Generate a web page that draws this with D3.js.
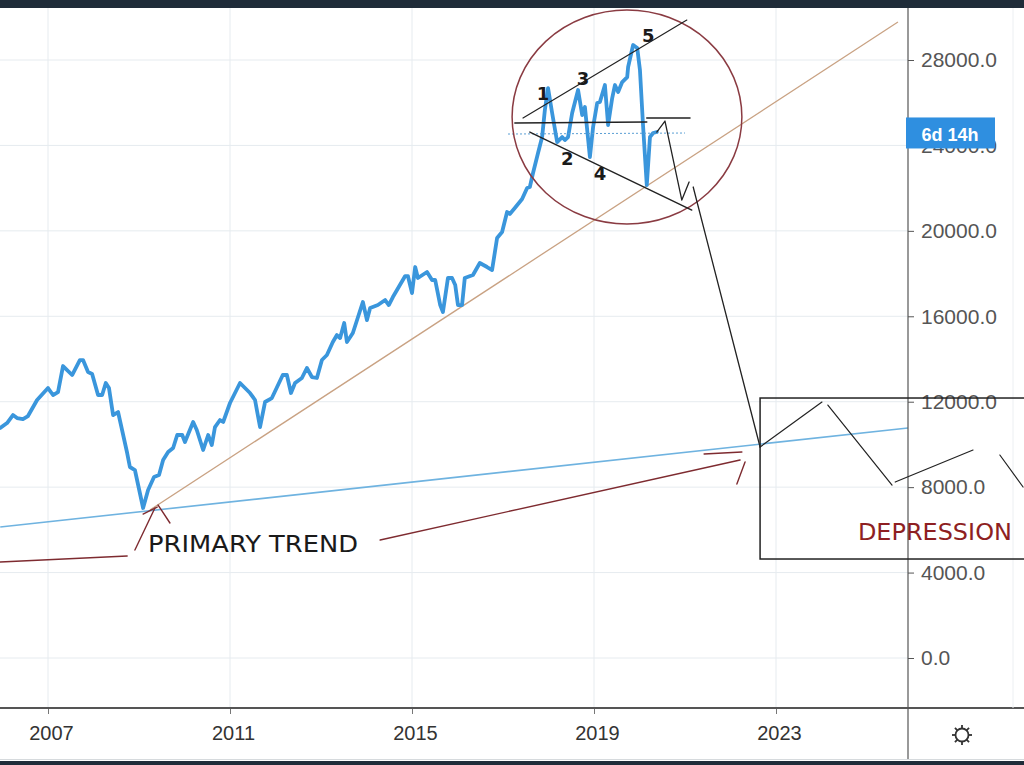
<!DOCTYPE html>
<html>
<head>
<meta charset="utf-8">
<script src="https://cdn.jsdelivr.net/npm/d3@7"></script>
<style>
  html, body { margin: 0; padding: 0; background: #ffffff; }
  svg { display: block; }
</style>
</head>
<body>
<svg id="chart" width="1024" height="765"></svg>
<script>
// ---------------- DATA ----------------
const priceYears = [2005.95,2006.10,2006.23,2006.32,2006.45,2006.56,2006.76,2007.00,2007.11,2007.22,2007.33,2007.53,2007.70,2007.77,2007.88,2007.97,2008.10,2008.19,2008.27,2008.34,2008.43,2008.54,2008.74,2008.80,2008.91,2009.09,2009.20,2009.33,2009.44,2009.53,2009.64,2009.75,2009.84,2009.95,2010.01,2010.19,2010.27,2010.41,2010.52,2010.60,2010.67,2010.78,2010.85,2011.00,2011.22,2011.44,2011.55,2011.66,2011.77,2011.92,2012.16,2012.25,2012.34,2012.43,2012.58,2012.69,2012.80,2012.91,2013.02,2013.13,2013.26,2013.35,2013.42,2013.51,2013.57,2013.70,2013.92,2014.01,2014.08,2014.25,2014.41,2014.49,2014.58,2014.67,2014.85,2014.91,2015.00,2015.07,2015.13,2015.33,2015.44,2015.51,2015.62,2015.68,2015.79,2015.88,2015.95,2016.01,2016.10,2016.16,2016.34,2016.49,2016.65,2016.76,2016.87,2016.98,2017.09,2017.15,2017.26,2017.42,2017.53,2017.59,2017.66,2017.77,2017.86,2017.92,2017.99,2018.08,2018.19,2018.30,2018.36,2018.43,2018.52,2018.65,2018.74,2018.80,2018.91,2018.98,2019.07,2019.13,2019.24,2019.31,2019.40,2019.46,2019.53,2019.62,2019.73,2019.75,2019.86,2019.95,2020.01,2020.08,2020.16,2020.23,2020.30,2020.38];
const priceValues = [10770,11003,11377,11237,11190,11330,12080,12641,12314,12454,13671,13250,13952,13952,13391,13297,12314,12314,12876,12641,11377,11518,9598,8943,8802,7023,7866,8474,8568,9270,9645,9832,10441,10441,10113,11050,10675,9739,10441,9973,10815,11143,11050,11939,12876,12407,12080,10815,11986,12173,13250,13250,12407,12876,13110,13578,13156,13110,13952,14186,14795,15123,14982,15685,14795,15217,16668,15825,16387,16527,16762,16527,16902,17230,17885,17885,17089,18307,17792,18073,17698,17698,16527,16200,17792,17792,17464,16527,16527,17792,17932,18494,18307,18166,19664,19945,20882,20788,21069,21490,22005,22052,22708,23644,24393,25657,26687,25517,24159,24393,24253,24393,25517,26594,25423,25798,23457,24861,25985,26032,26828,24955,26219,26828,26500,26968,27202,27671,28701,28560,27530,24861,22146,24393,24581,24627];

const xTickYears = [2007, 2011, 2015, 2019, 2023];
const yTickValues = [0, 4000, 8000, 12000, 16000, 20000, 24000, 28000];
const countdownLabel = "6d 14h";
const countdownLevel = 24560;

// drawn annotations, in data units [year, value]
const risingTrend = [[2009.24, 6929], [2025.68, 29778]];
const primaryTrend = [[2005.95, 6133], [2025.90, 10769]];
const upperChannel = [[2017.44, 25283], [2021.04, 29871]];
const lowerChannel = [[2017.59, 24627], [2021.15, 20975]];
const necklines = [
  [[2017.26, 25049], [2020.16, 25096]],
  [[2020.16, 25283], [2021.11, 25283]]
];
const dottedLevel = [[2017.11, 24534], [2021.00, 24581]];
const projections = [
  [[2020.38, 24627], [2020.56, 25142], [2020.93, 21444], [2021.09, 22286]],
  [[2021.18, 22052], [2022.65, 9879]]
];
const depressionPath = [
  [[2022.65, 9879], [2024.01, 11986]],
  [[2024.14, 11845], [2025.55, 8100]],
  [[2025.62, 8240], [2027.33, 9739]],
  [[2027.92, 9504], [2028.43, 8006]]
];
const depressionBox = [[2022.65, 12173], [2028.70, 4635]];
const handStrokes = [
  [[2005.95, 4495], [2008.74, 4776]],
  [[2008.91, 5057], [2009.35, 7023]],
  [[2009.09, 6742], [2009.40, 7070]],
  [[2009.42, 7163], [2009.68, 6321]],
  [[2014.30, 5525], [2022.21, 9270]],
  [[2021.42, 9551], [2022.25, 9645]],
  [[2022.32, 9177], [2022.14, 8147]]
];
const waveCircle = [[2017.20, 30340], [2022.25, 20320]];
const waveLabels = [
  {t: "1", at: [2017.88, 26126]},
  {t: "2", at: [2018.41, 23082]},
  {t: "3", at: [2018.76, 26828]},
  {t: "4", at: [2019.13, 22380]},
  {t: "5", at: [2020.19, 28841]}
];
const textNotes = [
  {t: "PRIMARY TREND", at: [2009.20, 4963], width: 210, color: "#1a1a1a"},
  {t: "DEPRESSION", at: [2024.80, 5525], width: 154, color: "#8e1f22"}
];

// ---------------- LAYOUT ----------------
const W = 1024, H = 765;
const plotRight = 908, plotTop = 8, plotBottom = 708;
const svg = d3.select("#chart");

const x = d3.scaleLinear().domain([2007, 2023]).range([48, 776]);
const y = d3.scaleLinear().domain([0, 28000]).range([658, 60]);
const px = d => x(d[0]), py = d => y(d[1]);

svg.append("rect").attr("width", W).attr("height", H).attr("fill", "#ffffff");

const defs = svg.append("defs");
defs.append("clipPath").attr("id", "plotClip")
  .append("rect").attr("x", 0).attr("y", plotTop).attr("width", plotRight).attr("height", plotBottom - plotTop);

// grid
const grid = svg.append("g").attr("clip-path", "url(#plotClip)");
grid.selectAll("line.v").data(xTickYears).join("line")
  .attr("x1", d => x(d)).attr("x2", d => x(d))
  .attr("y1", plotTop).attr("y2", plotBottom)
  .attr("stroke", "#e6ebef").attr("stroke-width", 1);
grid.selectAll("line.h").data(yTickValues).join("line")
  .attr("x1", 0).attr("x2", plotRight)
  .attr("y1", d => y(d)).attr("y2", d => y(d))
  .attr("stroke", "#e6ebef").attr("stroke-width", 1);

const line = d3.line().x(px).y(py);

// plot content
const plot = svg.append("g").attr("clip-path", "url(#plotClip)");
plot.append("path").datum(primaryTrend).attr("d", line)
  .attr("fill", "none").attr("stroke", "#6fb3e0").attr("stroke-width", 1.6);
plot.append("path").datum(risingTrend).attr("d", line)
  .attr("fill", "none").attr("stroke", "#c9a283").attr("stroke-width", 1.3);

const priceData = priceYears.map((yr, i) => [yr, priceValues[i]]);
plot.append("path").datum(priceData).attr("d", line)
  .attr("fill", "none").attr("stroke", "#3a96dc").attr("stroke-width", 3.8)
  .attr("stroke-linejoin", "round").attr("stroke-linecap", "round");

// dotted price level
plot.append("path").datum(dottedLevel).attr("d", line)
  .attr("fill", "none").attr("stroke", "#5a9fd4").attr("stroke-width", 1)
  .attr("stroke-dasharray", "2,2");

// ---------------- axes ----------------
// right price axis
const yAxisG = svg.append("g").attr("transform", `translate(${plotRight},0)`)
  .call(d3.axisRight(y).tickValues(yTickValues).tickFormat(d3.format(".1f")).tickSize(6).tickPadding(7));
yAxisG.select(".domain").remove();
yAxisG.selectAll(".tick line").attr("stroke", "#555");
yAxisG.selectAll(".tick text").attr("fill", "#555").style("font-family", "'Liberation Sans', Arial, sans-serif").style("font-size", "21px");

// bottom time axis
const xAxisG = svg.append("g").attr("transform", `translate(0,${plotBottom})`)
  .call(d3.axisBottom(x).tickValues(xTickYears).tickFormat(d3.format("d")).tickSize(6).tickPadding(12));
xAxisG.select(".domain").remove();
xAxisG.selectAll(".tick line").attr("stroke", "#777");
xAxisG.selectAll(".tick text").attr("fill", "#333").attr("dx", 3)
  .style("font-family", "'Liberation Sans', Arial, sans-serif").style("font-size", "20px");

svg.append("line").attr("x1", 0).attr("x2", W).attr("y1", plotBottom).attr("y2", plotBottom)
  .attr("stroke", "#555").attr("stroke-width", 2.2);
svg.append("line").attr("x1", plotRight).attr("x2", plotRight).attr("y1", plotTop).attr("y2", 760)
  .attr("stroke", "#555").attr("stroke-width", 1.2);
svg.append("line").attr("x1", 1013).attr("x2", 1013).attr("y1", plotTop).attr("y2", plotBottom)
  .attr("stroke", "#eceff2").attr("stroke-width", 1);

// countdown label (covers the 24000.0 tick label, as in the original)
const cy = y(countdownLevel);
svg.append("rect").attr("x", plotRight - 2).attr("y", cy - 16).attr("width", 89).attr("height", 31)
  .attr("fill", "#2f8fe0");
svg.append("text").attr("x", plotRight + 42).attr("y", cy + 1).attr("dy", "0.35em")
  .attr("text-anchor", "middle").attr("fill", "#ffffff")
  .style("font-family", "'Liberation Sans', Arial, sans-serif").style("font-size", "18px").style("font-weight", "bold")
  .text(countdownLabel);

// gear icon
const gear = svg.append("g").attr("transform", "translate(962,735)");
gear.append("circle").attr("r", 6.5).attr("fill", "none").attr("stroke", "#333").attr("stroke-width", 1.8);
gear.selectAll("line").data(d3.range(8)).join("line")
  .attr("x1", d => Math.cos(d * Math.PI / 4) * 6.5).attr("y1", d => Math.sin(d * Math.PI / 4) * 6.5)
  .attr("x2", d => Math.cos(d * Math.PI / 4) * 10).attr("y2", d => Math.sin(d * Math.PI / 4) * 10)
  .attr("stroke", "#333").attr("stroke-width", 1.8);

// top and bottom chrome
svg.append("rect").attr("x", 0).attr("y", 0).attr("width", W).attr("height", plotTop).attr("fill", "#1f2c39");
svg.append("rect").attr("x", 0).attr("y", 759).attr("width", W).attr("height", 1).attr("fill", "#d6dadd");
svg.append("rect").attr("x", 0).attr("y", 761).attr("width", W).attr("height", 4).attr("fill", "#1f2c39");

// ---------------- annotations ----------------
const ann = svg.append("g");
const drawSeg = (pts, color, w) => ann.append("path").datum(pts).attr("d", line)
  .attr("fill", "none").attr("stroke", color).attr("stroke-width", w)
  .attr("stroke-linecap", "round").attr("stroke-linejoin", "round");

// wave circle
ann.append("ellipse")
  .attr("cx", (x(waveCircle[0][0]) + x(waveCircle[1][0])) / 2)
  .attr("cy", (y(waveCircle[0][1]) + y(waveCircle[1][1])) / 2)
  .attr("rx", (x(waveCircle[1][0]) - x(waveCircle[0][0])) / 2)
  .attr("ry", (y(waveCircle[1][1]) - y(waveCircle[0][1])) / 2)
  .attr("fill", "none").attr("stroke", "#8a3b42").attr("stroke-width", 1.5);

drawSeg(upperChannel, "#222", 1.2);
drawSeg(lowerChannel, "#222", 1.4);
necklines.forEach(s => drawSeg(s, "#222", 1.5));
projections.forEach(s => drawSeg(s, "#222", 1.3));
depressionPath.forEach(s => drawSeg(s, "#222", 1.2));

ann.append("rect")
  .attr("x", x(depressionBox[0][0])).attr("y", y(depressionBox[0][1]))
  .attr("width", x(depressionBox[1][0]) - x(depressionBox[0][0]))
  .attr("height", y(depressionBox[1][1]) - y(depressionBox[0][1]))
  .attr("fill", "none").attr("stroke", "#222").attr("stroke-width", 1.5);

handStrokes.forEach(s => drawSeg(s, "#7e2b30", 1.4));

ann.selectAll("text.wave").data(waveLabels).join("text")
  .attr("class", "wave")
  .attr("x", d => px(d.at)).attr("y", d => py(d.at))
  .attr("text-anchor", "middle").attr("fill", "#1a1a1a")
  .style("font-family", "'DejaVu Sans', sans-serif").style("font-size", "18px").style("font-weight", "bold")
  .text(d => d.t);

ann.selectAll("text.note").data(textNotes).join("text")
  .attr("class", "note")
  .attr("x", d => px(d.at)).attr("y", d => py(d.at))
  .attr("fill", d => d.color)
  .attr("textLength", d => d.width).attr("lengthAdjust", "spacingAndGlyphs")
  .style("font-family", "'DejaVu Sans', sans-serif").style("font-size", "23px")
  .text(d => d.t);
</script>
</body>
</html>
